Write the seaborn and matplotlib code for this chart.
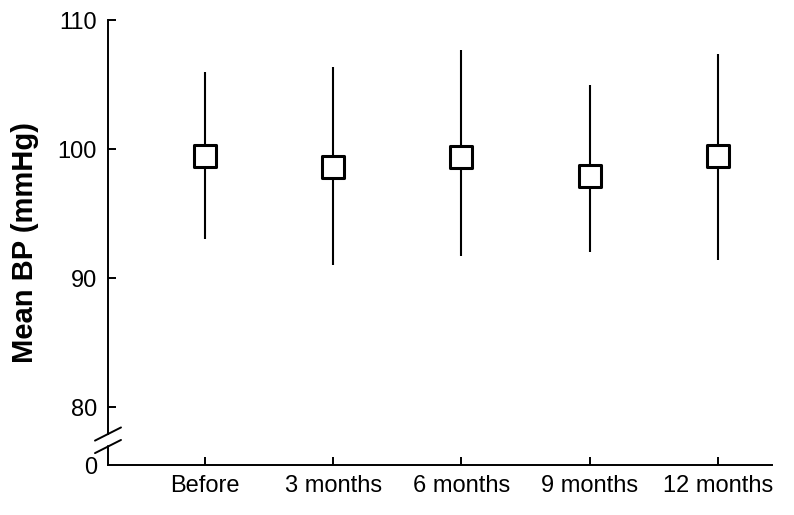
import matplotlib
matplotlib.use("Agg")
import matplotlib.pyplot as plt
import matplotlib.transforms as mtransforms
import seaborn as sns
import pandas as pd

# Mean BP over follow-up, with lower/upper range ends
periods = ["Before", "3 months", "6 months", "9 months", "12 months"]
mean_bp = [99.5, 98.6, 99.4, 97.9, 99.5]
low_bp = [93.0, 91.0, 91.7, 92.0, 91.4]
high_bp = [106.0, 106.4, 107.7, 105.0, 107.4]

ytick_vals = [75.5, 80, 90, 100, 110]
ytick_labels = ["0", "80", "90", "100", "110"]

df = pd.DataFrame({"period": periods, "mean": mean_bp, "low": low_bp, "high": high_bp})

sns.set_style("ticks")
plt.rcParams["font.family"] = ["Liberation Sans", "DejaVu Sans"]

fig = plt.figure(figsize=(7.94, 5.15), dpi=100)
ax = fig.add_axes([0.136, 0.097, 0.836, 0.864])

# range lines
ax.vlines(range(len(periods)), df["low"], df["high"], color="black", lw=1.5, zorder=1)

# mean markers
sns.scatterplot(data=df, x="period", y="mean", marker="s", s=16.5 ** 2,
                color="white", edgecolor="black", linewidth=2.2, zorder=3,
                ax=ax, legend=False)

ax.set_xlim(-0.756, 4.42)
ax.set_ylim(75.5, 110)
ax.set_yticks(ytick_vals)
ax.set_yticklabels(ytick_labels)
ax.yaxis.get_major_ticks()[0].tick1line.set_visible(False)

ax.tick_params(axis="both", direction="in", length=5.5, width=1.4, labelsize=17,
               colors="black", labelcolor="black")
ax.tick_params(axis="y", pad=8)
ax.tick_params(axis="x", pad=7)

ax.set_xlabel("")
ax.set_ylabel("Mean BP (mmHg)", fontsize=21, fontweight="bold", color="black", labelpad=13)

sns.despine(ax=ax)
for sp in ["left", "bottom"]:
    ax.spines[sp].set_linewidth(1.4)
    ax.spines[sp].set_color("black")

# axis break: split left spine and add two slashes
ax.spines["left"].set_bounds(77.9, 110)
trans = mtransforms.blended_transform_factory(ax.transAxes, ax.transData)
ax.plot([0, 0], [75.5, 77.0], color="black", lw=1.4, transform=trans, clip_on=False)
dx, dy = 0.0196, 0.0148
for yc in [0.0697, 0.0416]:
    ax.plot([-dx, dx], [yc - dy, yc + dy], color="black", lw=1.4,
            transform=ax.transAxes, clip_on=False)

fig.savefig("out.png", dpi=100, facecolor="white")
